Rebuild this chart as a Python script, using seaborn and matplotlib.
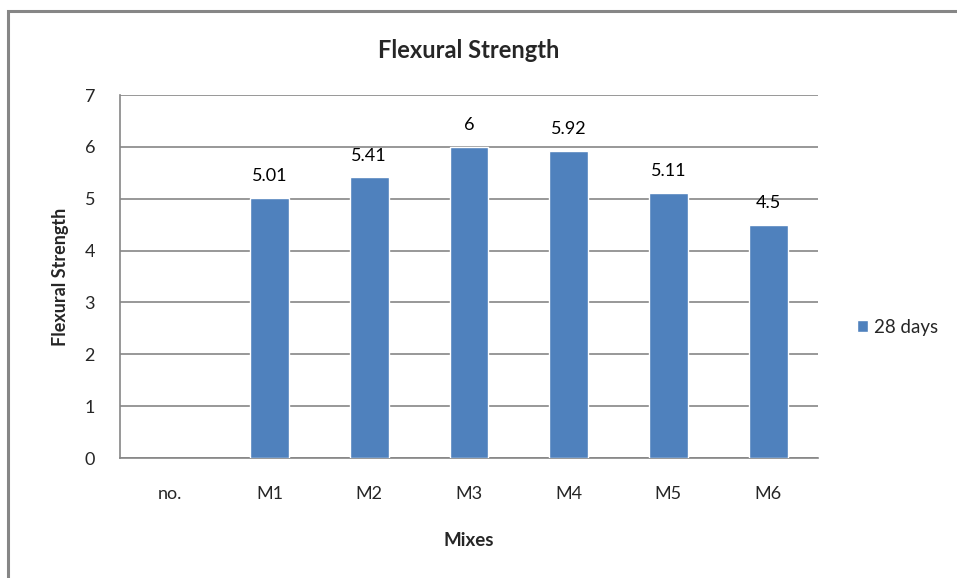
import matplotlib
matplotlib.use("Agg")
import matplotlib.pyplot as plt
import seaborn as sns
import pandas as pd
import numpy as np
from matplotlib.patches import Rectangle

mixes = ["no.", "M1", "M2", "M3", "M4", "M5", "M6"]
strength_28d = [np.nan, 5.01, 5.41, 6, 5.92, 5.11, 4.5]
value_labels = ["", "5.01", "5.41", "6", "5.92", "5.11", "4.5"]
series_name = "28 days"

df = pd.DataFrame({"Mixes": mixes, "Flexural Strength": strength_28d})

sns.set_style("white")
plt.rcParams["font.family"] = ["Lato", "DejaVu Sans"]

fig = plt.figure(figsize=(9.57, 5.78), dpi=100)
ax = fig.add_axes([0.1254, 0.2076, 0.7293, 0.628])

bar_color = "#4F81BD"
grid_color = "#868686"

sns.barplot(data=df, x="Mixes", y="Flexural Strength", order=mixes,
            color=bar_color, width=0.39, saturation=1, ax=ax,
            label=series_name, zorder=3)

ax.set_ylim(0, 7)
ax.set_xlim(-0.5, len(mixes) - 0.5)
ax.set_yticks(range(0, 8))
ax.yaxis.grid(True, color=grid_color, linewidth=1.2, zorder=0)
ax.xaxis.grid(False)

for side in ["top", "right"]:
    ax.spines[side].set_visible(False)
for side in ["left", "bottom"]:
    ax.spines[side].set_color(grid_color)
    ax.spines[side].set_linewidth(1.2)

ax.tick_params(axis="y", length=7, width=1.2, color=grid_color,
               labelsize=13, pad=11)
ax.tick_params(axis="x", length=0, labelsize=13, pad=20)

# value labels above each bar
for i, (v, lab) in enumerate(zip(strength_28d, value_labels)):
    if np.isnan(v):
        continue
    ax.annotate(lab, (i, v), xytext=(0, 10), textcoords="offset points",
                ha="center", va="bottom", fontsize=13, color="black")

ax.set_title("Flexural Strength", fontsize=17, fontweight="bold", pad=27)
ax.set_xlabel("Mixes", fontsize=13.5, fontweight="bold", labelpad=22)
ax.set_ylabel("Flexural Strength", fontsize=13, fontweight="bold", labelpad=11)

leg = ax.legend(loc="center left", bbox_to_anchor=(0.895, 0.434),
                bbox_transform=fig.transFigure, frameon=False,
                fontsize=13.5, handlelength=0.6, handleheight=0.6,
                handletextpad=0.35, borderpad=0, borderaxespad=0)

# outer chart frame
fig.patches.append(Rectangle((8 / 957, -0.1), 1.2, 1 - 11 / 578 + 0.1,
                             transform=fig.transFigure, fill=False,
                             edgecolor=grid_color, linewidth=2.2))

fig.savefig("out.png", dpi=100)
